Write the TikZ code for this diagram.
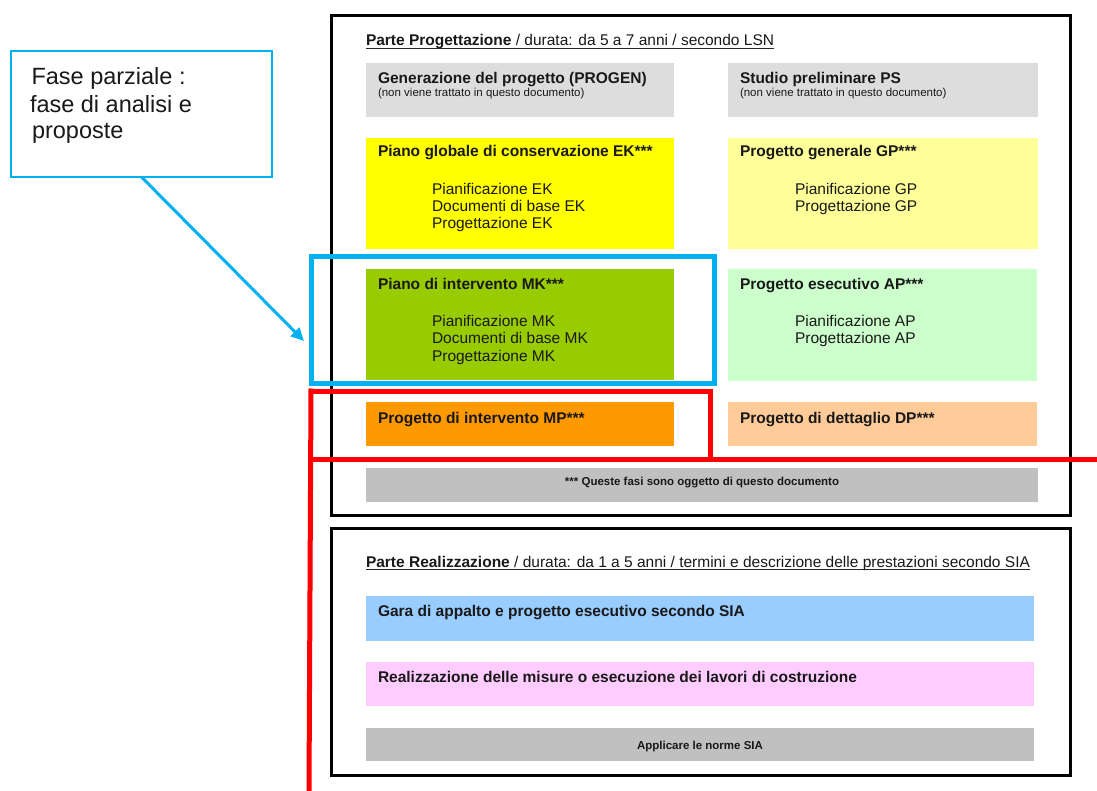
\documentclass[tikz,border=0pt]{standalone}
\usepackage{fontspec}
\setmainfont{Liberation Sans}
\usetikzlibrary{arrows.meta}
\definecolor{lgray}{HTML}{DDDDDD}
\definecolor{mgray}{HTML}{C0C0C0}
\definecolor{ekyellow}{HTML}{FFFF00}
\definecolor{gpyellow}{HTML}{FFFF99}
\definecolor{mkgreen}{HTML}{99CC00}
\definecolor{apgreen}{HTML}{CCFFCC}
\definecolor{mporange}{HTML}{FF9900}
\definecolor{dporange}{HTML}{FFCC99}
\definecolor{garablue}{HTML}{99CCFF}
\definecolor{realpink}{HTML}{FFCCFF}
\definecolor{callcyan}{HTML}{00B0F0}
\definecolor{markred}{HTML}{FF0000}
\newcommand{\fmain}{\fontsize{15.5}{17.5}\selectfont}
\newcommand{\fsub}{\fontsize{11.5}{13}\selectfont}
\newcommand{\fcall}{\fontsize{23.5}{27}\selectfont}
\begin{document}
\begin{tikzpicture}[x=1pt,y=-1pt,
  phase/.style={draw=none,inner sep=0pt,outer sep=0pt,anchor=north west,rectangle},
  frame/.style={draw=black,line width=3pt,inner sep=0pt,outer sep=0pt,anchor=north west,rectangle},
  txt/.style={inner sep=0pt,outer sep=0pt,anchor=base west,font=\fmain,text=black!90},
  btxt/.style={txt,font=\fmain\bfseries},
  subtxt/.style={txt,font=\fsub},
  ctrtxt/.style={inner sep=0pt,outer sep=0pt,anchor=base,font=\fsub\bfseries,text=black!90},
  calltxt/.style={inner sep=0pt,outer sep=0pt,anchor=base west,font=\fcall,text=black!90},
  uline/.style={line width=1pt,black!85},
  bluemark/.style={draw=callcyan,line width=5pt},
  redmark/.style={draw=markred,line width=5pt},
]
\useasboundingbox (0,0) rectangle (1097,791);
\fill[white] (0,0) rectangle (1097,791);

% ---------- frames ----------
\node[frame,minimum width=739pt,minimum height=499.5pt] (top) at (331,15.5) {};
\node[frame,minimum width=739pt,minimum height=247pt] (bottom) at (331,528) {};

% ---------- top part ----------
\node[txt] (h1) at (366,46) {\textbf{Parte Progettazione} / durata: da 5 a 7 anni / secondo LSN};
\draw[uline] ([yshift=-2.5pt]h1.base west) -- ([yshift=-2.5pt]h1.base east);

\node[phase,fill=lgray,minimum width=308pt,minimum height=54pt] (progen) at (366,63) {};
\node[btxt] (progent) at (378,84) {Generazione del progetto (PROGEN)};
\node[subtxt] (progens) at (378,97) {(non viene trattato in questo documento)};

\node[phase,fill=lgray,minimum width=310pt,minimum height=54pt] (ps) at (728,63) {};
\node[btxt] (pst) at (740,84) {Studio preliminare PS};
\node[subtxt] (pss) at (740,97) {(non viene trattato in questo documento)};

\node[phase,fill=ekyellow,minimum width=308pt,minimum height=111pt] (ek) at (366,138) {};
\node[btxt] (ekt) at (378,157) {Piano globale di conservazione EK***};
\node[txt] (ek1) at (432,195) {Pianificazione EK};
\node[txt] (ek2) at (432,212) {Documenti di base EK};
\node[txt] (ek3) at (432,229) {Progettazione EK};

\node[phase,fill=gpyellow,minimum width=310pt,minimum height=111pt] (gp) at (728,138) {};
\node[btxt] (gpt) at (740,157) {Progetto generale GP***};
\node[txt] (gp1) at (795,195) {Pianificazione GP};
\node[txt] (gp2) at (795,212) {Progettazione GP};

\node[phase,fill=mkgreen,minimum width=308pt,minimum height=111pt] (mk) at (366,269) {};
\node[btxt] (mkt) at (378,289.5) {Piano di intervento MK***};
\node[txt] (mk1) at (432,326.5) {Pianificazione MK};
\node[txt] (mk2) at (432,344) {Documenti di base MK};
\node[txt] (mk3) at (432,361.5) {Progettazione MK};

\node[phase,fill=apgreen,minimum width=309pt,minimum height=112pt] (ap) at (728,269) {};
\node[btxt] (apt) at (740,289.5) {Progetto esecutivo AP***};
\node[txt] (ap1) at (795,326.5) {Pianificazione AP};
\node[txt] (ap2) at (795,344) {Progettazione AP};

\node[phase,fill=mporange,minimum width=308pt,minimum height=44pt] (mp) at (366,402) {};
\node[btxt] (mpt) at (378,423) {Progetto di intervento MP***};

\node[phase,fill=dporange,minimum width=309pt,minimum height=44pt] (dp) at (728,402) {};
\node[btxt] (dpt) at (740,423) {Progetto di dettaglio DP***};

\node[phase,fill=mgray,minimum width=672pt,minimum height=34pt] (note) at (366,468) {};
\node[ctrtxt] (notet) at (702,485) {*** Queste fasi sono oggetto di questo documento};

% ---------- bottom part ----------
\node[txt] (h2) at (366,567) {\textbf{Parte Realizzazione} / durata: da 1 a 5 anni / termini e descrizione delle prestazioni secondo SIA};
\draw[uline] ([yshift=-2.5pt]h2.base west) -- ([yshift=-2.5pt]h2.base east);

\node[phase,fill=garablue,minimum width=668pt,minimum height=45pt] (gara) at (366,596) {};
\node[btxt] (garat) at (378,616) {Gara di appalto e progetto esecutivo secondo SIA};

\node[phase,fill=realpink,minimum width=668pt,minimum height=44pt] (real) at (366,662) {};
\node[btxt] (realt) at (378,682) {Realizzazione delle misure o esecuzione dei lavori di costruzione};

\node[phase,fill=mgray,minimum width=668pt,minimum height=33pt] (sia) at (366,728) {};
\node[ctrtxt] (siat) at (700,749) {Applicare le norme SIA};

% ---------- highlight marks ----------
\draw[bluemark] (311,257) rectangle (714,383);
\draw[redmark] (311,391) -- (710,391) -- (710,459);
\draw[redmark] (311,459) -- (1097,459);
\draw[redmark] (311,388.5) -- (309,791);

% ---------- callout ----------
\node[draw=callcyan,line width=1.5pt,inner sep=0pt,outer sep=0pt,anchor=north west,
      minimum width=261pt,minimum height=126pt] (callout) at (11,51) {};
\node[calltxt] (c1) at (31.5,85) {Fase parziale :};
\node[calltxt] (c2) at (30,112.5) {fase di analisi e};
\node[calltxt] (c3) at (32,139) {proposte};
\coordinate (target) at (304,341);
\draw[callcyan,line width=3pt,-{Triangle[length=13pt,width=12pt]}] (callout.south) -- (target);
\end{tikzpicture}
\end{document}
